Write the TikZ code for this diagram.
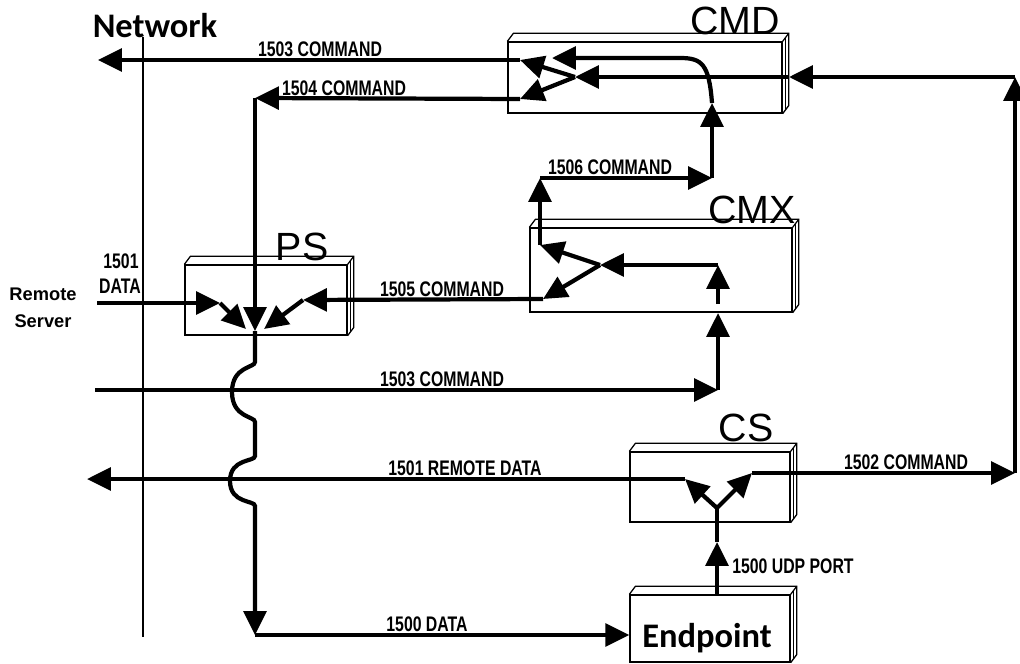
\documentclass[tikz,border=0pt]{standalone}
\usepackage{fontspec}
\setmainfont{Liberation Sans}
\newfontfamily\lblfont{Liberation Sans}[FakeStretch=0.75]
\newfontfamily\headfont{Carlito}
\usetikzlibrary{arrows.meta}
\newcommand\depthbox[1]{%
  \draw[line width=0.9pt] (#1.north west) -- ++(6,-8) -- ([shift={(6,-8)}]#1.north east) -- ([shift={(6,-8)}]#1.south east) -- (#1.south east);
  \draw[line width=0.9pt] (#1.north east) -- ++(6,-8);
  \draw[line width=0.6pt] ([shift={(3,-4)}]#1.north east) -- ([shift={(3,-4)}]#1.south east);}
\begin{document}
\begin{tikzpicture}[x=0.025cm,y=-0.025cm,
  sig/.style={line width=3pt},
  arr/.style={sig,-{Triangle[length=17pt,width=16pt]}},
  thinline/.style={line width=0.8pt},
  boxf/.style={draw,line width=0.9pt,rectangle,inner sep=0pt},
  lbl/.style={font=\lblfont\bfseries\fontsize{15}{17}\selectfont,inner sep=0pt},
  side/.style={font=\bfseries\fontsize{13}{15}\selectfont,inner sep=0pt},
  big/.style={font=\fontsize{28}{30}\selectfont,inner sep=0pt},
  head/.style={font=\headfont\bfseries\fontsize{24.5}{26}\selectfont,inner sep=0pt}]
\useasboundingbox (0,0) rectangle (1020,664);

% boxes
\node[boxf,minimum width=6.85cm,minimum height=1.775cm] (cmd) at (645,77.5) {};
\node[boxf,minimum width=6.55cm,minimum height=2.1cm] (cmx) at (661,270) {};
\node[boxf,minimum width=4.05cm,minimum height=1.75cm] (ps) at (266,300) {};
\node[boxf,minimum width=4cm,minimum height=1.75cm] (cs) at (710,487) {};
\node[boxf,minimum width=4cm,minimum height=1.675cm] (ep) at (710,628.5) {};
\depthbox{cmd}\depthbox{cmx}\depthbox{ps}\depthbox{cs}\depthbox{ep}

% box titles
\node[big] (cmdl) at (735,21) {CMD};
\node[big] (cmxl) at (752,210) {CMX};
\node[big] (psl0) at (302,247) {PS};
\node[big] (csl) at (746,428) {CS};
\node[head] (netl) at (155,26) {Network};
\node[head,anchor=base] (epl) at (707,647) {Endpoint};

% network boundary
\coordinate (nett) at (143,37);
\coordinate (netb) at (143,637);
\draw[thinline] (nett) -- (netb);

% coordinates
\coordinate (vcmd) at (575,77);
\coordinate (cmdo1) at (520,60);
\coordinate (cmdo2) at (520,99);
\coordinate (net1503) at (98,60);
\coordinate (c1504) at (255,98);
\coordinate (psm) at (255,331);
\coordinate (psmr) at (264,329);
\coordinate (psml) at (246,329);
\coordinate (cmdr) at (789,77);
\coordinate (rt) at (1015,77);
\coordinate (rb) at (1015,473);
\coordinate (cmdin) at (712,103);
\coordinate (cmdtip) at (552,58);
\coordinate (c1506r) at (712,178);
\coordinate (c1506l) at (540,178);
\coordinate (cmxo1) at (540,245);
\coordinate (cmxo2) at (543,299);
\coordinate (vcmx) at (600,265);
\coordinate (cmxr) at (718,265);
\coordinate (cmxb) at (718,304);
\coordinate (cmxbot) at (718,313);
\coordinate (c1503r) at (718,390);
\coordinate (l1503) at (95,390);
\coordinate (psr) at (303,300);
\coordinate (psl) at (220,303);
\coordinate (l1501) at (97,303);
\coordinate (epc) at (255,635);
\coordinate (csin) at (717,595);
\coordinate (csa) at (717,542);
\coordinate (csfork) at (717,508);
\coordinate (cso1) at (685,479);
\coordinate (cso2) at (752,473);
\coordinate (l1501r) at (87,479);

% CMD internals and outputs
\draw[arr] (rb) -- (rt);
\draw[arr] (rt) -- (cmdr);
\draw[arr] (cmdr) -- (vcmd);
\draw[arr] (vcmd) -- (cmdo1);
\draw[arr] (vcmd) -- (cmdo2);
\draw[arr] (cmdo1) -- (net1503);
\draw[arr] (cmdo2) -- (c1504);
\draw[arr] (c1504) -- (psm);
\draw[arr] (cmdin) .. controls (709,64) and (702,58) .. (680,58) -- (cmdtip);

% CMX and 1506
\draw[arr] (cmxr) -- (vcmx);
\draw[arr] (vcmx) -- (cmxo1);
\draw[arr] (vcmx) -- (cmxo2);
\draw[arr] (cmxo1) -- (c1506l);
\draw[arr] (c1506l) -- (c1506r);
\draw[arr] (c1506r) -- (cmdin);
\draw[arr] (cmxb) -- (cmxr);
\draw[arr] (l1503) -- (c1503r);
\draw[arr] (c1503r) -- (cmxbot);

% PS
\draw[arr] (cmxo2) -- (psr);
\draw[arr] (psr) -- (psmr);
\draw[arr] (l1501) -- (psl);
\draw[arr] (psl) -- (psml);
\draw[arr] (psm) -- (255,362) .. controls (255,368) and (232,366) .. (232,392)
   .. controls (232,418) and (255,416) .. (255,422) -- (255,456)
   .. controls (255,462) and (230,458) .. (230,481)
   .. controls (230,504) and (255,500) .. (255,506) -- (epc);
\draw[arr] (epc) -- (ep.west |- epc);

% CS
\draw[arr] (csin) -- (csa);
\draw[sig] (csa) -- (csfork);
\draw[arr] (csfork) -- (cso1);
\draw[arr] (csfork) -- (cso2);
\draw[arr] (cso1) -- (l1501r);
\draw[arr] (cso2) -- (rb);

% labels
\node[lbl,anchor=base] (t1503a) at (320,56) {1503 COMMAND};
\node[lbl,anchor=base] (t1504) at (344,95) {1504 COMMAND};
\node[lbl,anchor=base] (t1506) at (610,174) {1506 COMMAND};
\node[lbl,anchor=base] (t1505) at (442,296) {1505 COMMAND};
\node[lbl,anchor=base] (t1503b) at (442,386) {1503 COMMAND};
\node[lbl,anchor=base] (t1501r) at (465,475) {1501 REMOTE DATA};
\node[lbl,anchor=base] (t1502) at (906,469) {1502 COMMAND};
\node[lbl,anchor=base] (t1500) at (427,631) {1500 DATA};
\node[lbl,anchor=base west] (tudp) at (732,573) {1500 UDP PORT};
\node[lbl,anchor=base] (t1501a) at (121,268) {1501};
\node[lbl,anchor=base] (t1501b) at (120,293) {DATA};
\node[side,anchor=base] (trem) at (43,300) {Remote};
\node[side,anchor=base] (tser) at (43,327) {Server};
\end{tikzpicture}
\end{document}
